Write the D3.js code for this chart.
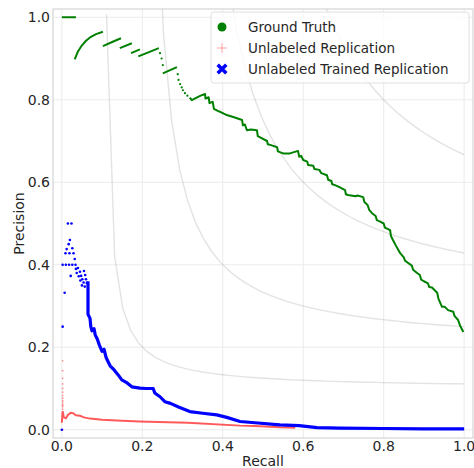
<!DOCTYPE html>
<html>
<head>
<meta charset="utf-8">
<script src="https://cdn.jsdelivr.net/npm/d3@7"></script>
<style>
  body { margin: 0; background: #fff; }
  text { font-family: "DejaVu Sans", sans-serif; fill: #262626; }
</style>
</head>
<body>
<div id="content"></div>
<script>
// tick values on both axes
var ticks = [0, 0.2, 0.4, 0.6, 0.8, 1.0];
// iso-F1 reference curves
var isoF1 = [0.2, 0.4, 0.6, 0.8];

var legendNames = ["Ground Truth", "Unlabeled Replication", "Unlabeled Trained Replication"];

// Ground Truth: runs of points [recall, precision]
var greenRuns = [
  [[0.0, 1.0], [0.035, 1.0]],
  [[0.032, 0.898], [0.04, 0.917], [0.05, 0.932], [0.06, 0.943], [0.07, 0.951], [0.085, 0.959], [0.102, 0.965]],
  [[0.102, 0.930], [0.125, 0.940], [0.147, 0.949]],
  [[0.144, 0.925], [0.174, 0.937]],
  [[0.172, 0.913], [0.194, 0.922]],
  [[0.19, 0.905], [0.215, 0.915], [0.241, 0.925]],
  [[0.251, 0.864], [0.286, 0.879]],
  [[0.318, 0.805], [0.323, 0.799], [0.335, 0.805], [0.345, 0.81], [0.356, 0.814], [0.357, 0.803], [0.365, 0.806],
   [0.367, 0.792], [0.375, 0.795], [0.378, 0.778], [0.39, 0.772], [0.395, 0.770], [0.405, 0.765], [0.41, 0.763],
   [0.42, 0.76], [0.43, 0.757], [0.448, 0.751], [0.45, 0.738], [0.455, 0.74], [0.46, 0.726], [0.47, 0.728],
   [0.485, 0.726], [0.487, 0.712], [0.493, 0.709], [0.51, 0.70], [0.512, 0.692], [0.52, 0.69], [0.535, 0.685],
   [0.537, 0.675], [0.55, 0.67], [0.567, 0.67], [0.587, 0.676], [0.59, 0.662], [0.595, 0.664], [0.6, 0.654],
   [0.61, 0.65], [0.612, 0.642], [0.625, 0.64], [0.628, 0.632], [0.64, 0.63], [0.645, 0.622], [0.659, 0.617],
   [0.662, 0.606], [0.67, 0.603], [0.672, 0.595], [0.679, 0.593], [0.69, 0.588], [0.704, 0.581], [0.706, 0.571],
   [0.711, 0.569], [0.73, 0.566], [0.735, 0.568], [0.749, 0.564], [0.752, 0.552], [0.76, 0.545], [0.764, 0.533],
   [0.771, 0.525], [0.78, 0.518], [0.783, 0.508], [0.79, 0.505], [0.8, 0.5], [0.803, 0.49], [0.816, 0.484],
   [0.818, 0.47], [0.823, 0.46], [0.83, 0.447], [0.834, 0.44], [0.841, 0.428], [0.85, 0.418], [0.853, 0.41],
   [0.86, 0.405], [0.87, 0.398], [0.873, 0.388], [0.883, 0.38], [0.89, 0.375], [0.893, 0.364], [0.90, 0.36],
   [0.91, 0.355], [0.913, 0.346], [0.92, 0.345], [0.933, 0.332], [0.936, 0.318], [0.945, 0.298], [0.952, 0.298],
   [0.96, 0.29], [0.973, 0.286], [0.976, 0.276], [0.985, 0.266], [0.99, 0.252], [0.998, 0.237]]
];
var greenDots = [[0.244, 0.913], [0.248, 0.90], [0.251, 0.884], [0.288, 0.862], [0.29, 0.848],
  [0.294, 0.838], [0.298, 0.83], [0.301, 0.823], [0.306, 0.816], [0.312, 0.81]];

// Unlabeled Replication (red)
var redLine = [[0.0, 0.017], [0.002, 0.045], [0.005, 0.03], [0.01, 0.028], [0.015, 0.036], [0.022, 0.041],
  [0.028, 0.04], [0.035, 0.035], [0.045, 0.034], [0.055, 0.03], [0.07, 0.027], [0.1, 0.024], [0.149, 0.022],
  [0.194, 0.02], [0.313, 0.017], [0.443, 0.01], [0.48, 0.009], [0.542, 0.006], [0.58, 0.005]];
var redDots = [[0.002, 0.167], [0.002, 0.143], [0.002, 0.125], [0.002, 0.111], [0.002, 0.1], [0.002, 0.091],
  [0.002, 0.083], [0.002, 0.077], [0.002, 0.071], [0.002, 0.067], [0.002, 0.062], [0.002, 0.059],
  [0.002, 0.056], [0.002, 0.05], [0.002, 0.0]];

// Unlabeled Trained Replication (blue)
var blueDots = [[0.0, 0.0], [0.002, 0.25], [0.007, 0.332], [0.015, 0.5], [0.024, 0.5], [0.02, 0.46],
  [0.017, 0.45], [0.012, 0.438], [0.026, 0.44], [0.009, 0.428], [0.019, 0.428], [0.029, 0.428], [0.032, 0.414],
  [0.002, 0.4], [0.01, 0.4], [0.018, 0.4], [0.026, 0.4], [0.034, 0.4],
  [0.022, 0.373], [0.04, 0.392], [0.045, 0.383], [0.048, 0.373], [0.051, 0.365], [0.054, 0.357], [0.042, 0.372],
  [0.046, 0.362], [0.05, 0.35], [0.055, 0.385], [0.058, 0.375], [0.06, 0.365], [0.057, 0.347], [0.062, 0.356],
  [0.037, 0.38], [0.035, 0.39]];
var blueLine = [[0.065, 0.36], [0.065, 0.28], [0.07, 0.27], [0.072, 0.25], [0.075, 0.24], [0.08, 0.245],
  [0.083, 0.23], [0.088, 0.22], [0.093, 0.206], [0.1, 0.19], [0.105, 0.195], [0.11, 0.175], [0.115, 0.165],
  [0.12, 0.155], [0.13, 0.145], [0.14, 0.133], [0.149, 0.121], [0.16, 0.115], [0.174, 0.104], [0.194, 0.101],
  [0.21, 0.1], [0.227, 0.1], [0.231, 0.089], [0.244, 0.08], [0.256, 0.068], [0.27, 0.064], [0.29, 0.055],
  [0.318, 0.044], [0.35, 0.04], [0.385, 0.036], [0.41, 0.03], [0.443, 0.02], [0.48, 0.017], [0.542, 0.012],
  [0.59, 0.01], [0.634, 0.005], [0.69, 0.004], [0.8, 0.003], [0.9, 0.002], [1.0, 0.002]];

var width = 474, height = 468;
var plotLeft = 53, plotRight = 473, plotTop = 9, plotBottom = 438;

var svg = d3.select("#content").append("svg")
  .attr("width", width)
  .attr("height", height);

var x = d3.scaleLinear().domain([-0.022, 1.022]).range([plotLeft, plotRight]);
var y = d3.scaleLinear().domain([-0.02, 1.02]).range([plotBottom, plotTop]);

svg.append("clipPath").attr("id", "plotClip")
  .append("rect")
  .attr("x", plotLeft).attr("y", plotTop)
  .attr("width", plotRight - plotLeft).attr("height", plotBottom - plotTop);

// grid
var grid = svg.append("g");
grid.selectAll(".vg").data(ticks).enter().append("line")
  .attr("x1", d => x(d)).attr("x2", d => x(d))
  .attr("y1", plotTop).attr("y2", plotBottom)
  .attr("stroke", "#ebebeb").attr("stroke-width", 1);
grid.selectAll(".hg").data(ticks).enter().append("line")
  .attr("x1", plotLeft).attr("x2", plotRight)
  .attr("y1", d => y(d)).attr("y2", d => y(d))
  .attr("stroke", "#ebebeb").attr("stroke-width", 1);

var plot = svg.append("g").attr("clip-path", "url(#plotClip)");
var line = d3.line().x(d => x(d[0])).y(d => y(d[1]));

// iso-F1 curves, sampled like np.linspace(0.01, 1, 50)
var xs = d3.range(50).map(i => 0.01 + i * 0.99 / 49);
isoF1.forEach(function(f) {
  var pts = xs.map(v => [v, f * v / (2 * v - f)]).filter(p => p[1] >= 0);
  plot.append("path")
    .attr("d", line(pts))
    .attr("fill", "none")
    .attr("stroke", "#808080")
    .attr("stroke-opacity", 0.22)
    .attr("stroke-width", 1.4);
});

// red
plot.append("path")
  .attr("d", line(redLine))
  .attr("fill", "none")
  .attr("stroke", "#ff0000")
  .attr("stroke-opacity", 0.65)
  .attr("stroke-width", 2);
plot.selectAll(".rd").data(redDots).enter().append("circle")
  .attr("cx", d => x(d[0])).attr("cy", d => y(d[1]))
  .attr("r", 0.9)
  .attr("fill", "#ff0000").attr("fill-opacity", 0.4);

// blue
plot.append("path")
  .attr("d", line(blueLine))
  .attr("fill", "none")
  .attr("stroke", "#0000ff")
  .attr("stroke-width", 3.2)
  .attr("stroke-linejoin", "round");
plot.selectAll(".bd").data(blueDots).enter().append("circle")
  .attr("cx", d => x(d[0])).attr("cy", d => y(d[1]))
  .attr("r", 1.3)
  .attr("fill", "#0000ff");

// green
greenRuns.forEach(function(run) {
  plot.append("path")
    .attr("d", line(run))
    .attr("fill", "none")
    .attr("stroke", "#008000")
    .attr("stroke-width", 2)
    .attr("stroke-linejoin", "round");
});
plot.selectAll(".gd").data(greenDots).enter().append("circle")
  .attr("cx", d => x(d[0])).attr("cy", d => y(d[1]))
  .attr("r", 1.1)
  .attr("fill", "#008000");

// spines
svg.append("rect")
  .attr("x", plotLeft).attr("y", plotTop)
  .attr("width", plotRight - plotLeft).attr("height", plotBottom - plotTop)
  .attr("fill", "none").attr("stroke", "#cccccc").attr("stroke-width", 1);

// tick labels
svg.selectAll(".xt").data(ticks).enter().append("text")
  .attr("x", d => x(d)).attr("y", 451)
  .attr("text-anchor", "middle")
  .style("font-size", "14px")
  .text(d => d.toFixed(1));
svg.selectAll(".yt").data(ticks).enter().append("text")
  .attr("x", 50).attr("y", d => y(d) + 5)
  .attr("text-anchor", "end")
  .style("font-size", "14px")
  .text(d => d.toFixed(1));

svg.append("text")
  .attr("x", (plotLeft + plotRight) / 2).attr("y", 466)
  .attr("text-anchor", "middle")
  .style("font-size", "14px")
  .text("Recall");
svg.append("text")
  .attr("transform", "translate(24," + ((plotTop + plotBottom) / 2) + ") rotate(-90)")
  .attr("text-anchor", "middle")
  .style("font-size", "14px")
  .text("Precision");

// legend
var legend = svg.append("g");
legend.append("rect")
  .attr("x", 211).attr("y", 12)
  .attr("width", 258).attr("height", 71)
  .attr("rx", 3)
  .attr("fill", "#ffffff").attr("fill-opacity", 0.8)
  .attr("stroke", "#e0e0e0");
var ly = [27, 48, 69];
legend.append("circle").attr("cx", 222).attr("cy", ly[0]).attr("r", 4.5).attr("fill", "#008000");
legend.append("path")
  .attr("d", "M222," + (ly[1] - 5) + "V" + (ly[1] + 5) + "M217," + ly[1] + "H227")
  .attr("stroke", "#ff0000").attr("stroke-opacity", 0.35).attr("stroke-width", 1);
legend.append("path")
  .attr("d", d3.symbol(d3.symbolX, 50)())
  .attr("transform", "translate(222," + ly[2] + ")")
  .attr("fill", "#0000ff").attr("stroke", "#0000ff").attr("stroke-width", 3.5);
legend.selectAll(".lt").data(legendNames).enter().append("text")
  .attr("x", 248).attr("y", (d, i) => ly[i] + 5)
  .style("font-size", "13.5px")
  .text(d => d);
</script>
</body>
</html>
